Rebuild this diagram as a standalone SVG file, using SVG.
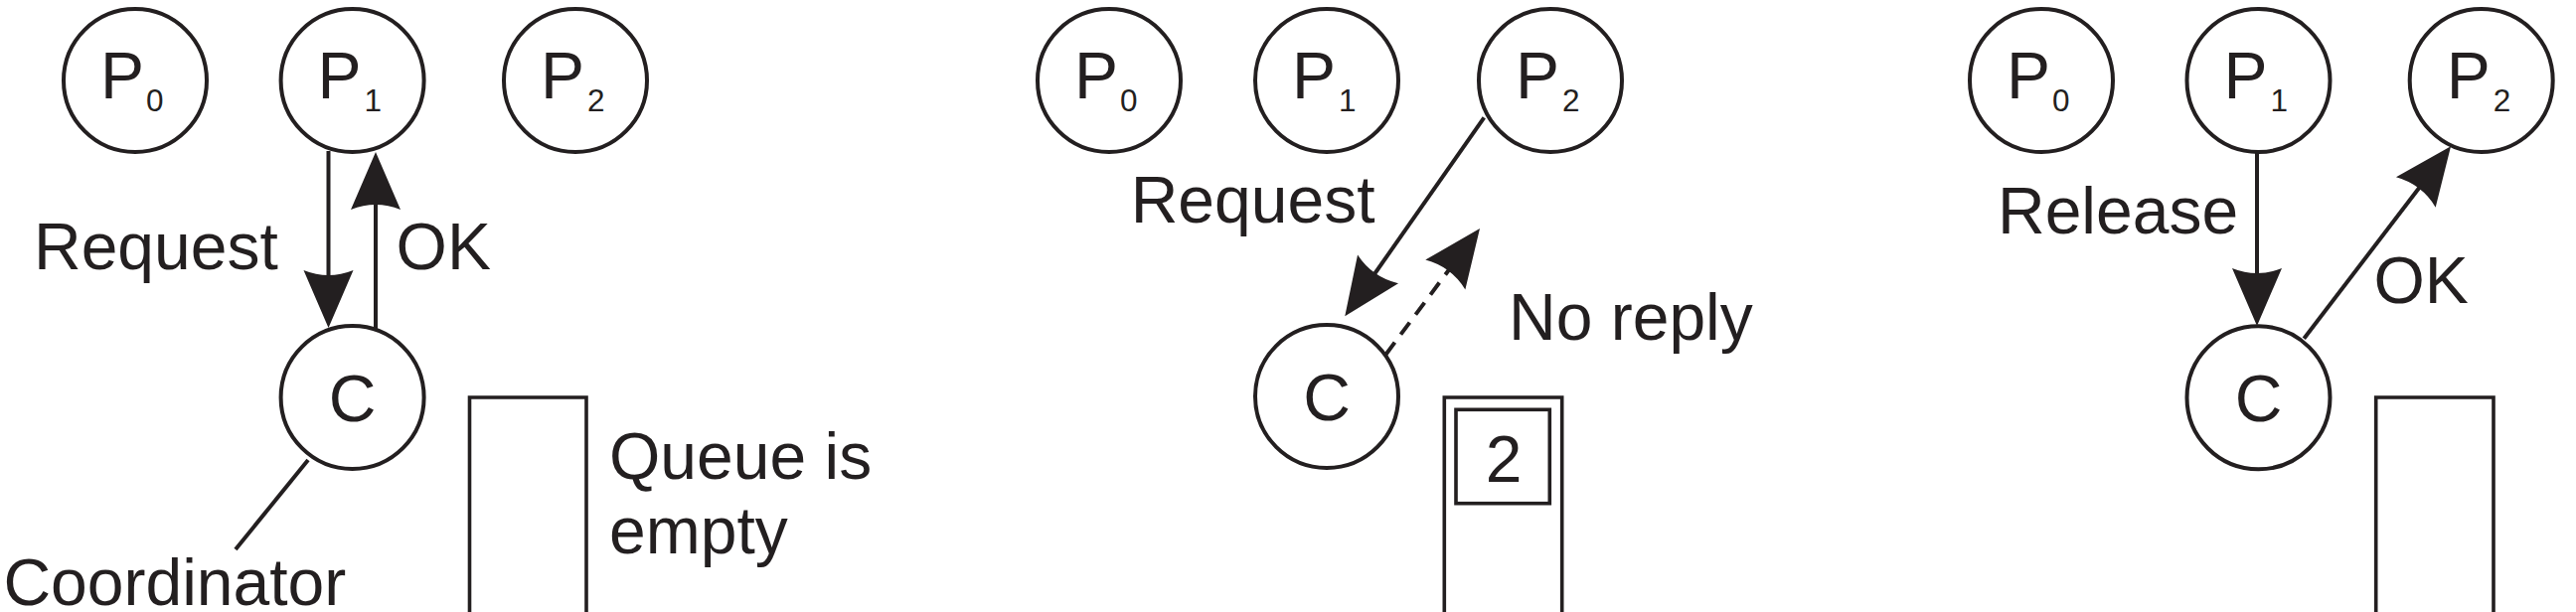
<svg xmlns="http://www.w3.org/2000/svg" width="2592" height="616" viewBox="0 0 2592 616">
<style>
.n{fill:#fff;stroke:#231f20;stroke-width:4}
.t{font-family:"Liberation Sans",Arial,sans-serif;font-size:66px;fill:#231f20}
.s{font-family:"Liberation Sans",Arial,sans-serif;font-size:31.5px;fill:#231f20}
.e{fill:none;stroke:#231f20;stroke-width:4}
.d{stroke-dasharray:15 10}
.q{fill:none;stroke:#231f20;stroke-width:3.6}
</style>
<defs>
<marker id="ah" markerUnits="userSpaceOnUse" markerWidth="60" markerHeight="52" viewBox="0 -26 60 52" refX="10" refY="0" orient="auto" overflow="visible">
<path d="M0,-25 L58,0 L0,25 Q10,0 0,-25 Z" fill="#231f20"/>
</marker>
</defs>
<rect width="2592" height="616" fill="#fff"/>
<g id="connectors">
<line class="e" x1="330.5" y1="152" x2="330.5" y2="282" marker-end="url(#ah)"/>
<line class="e" x1="378" y1="331" x2="378" y2="201" marker-end="url(#ah)"/>
<line class="e" x1="310" y1="463" x2="237" y2="553"/>
<line class="e" x1="1493.3" y1="118.3" x2="1380.8" y2="279" marker-end="url(#ah)"/>
<line class="e d" x1="1394.5" y1="356.7" x2="1460.3" y2="268.5" marker-end="url(#ah)"/>
<line class="e" x1="2271" y1="153" x2="2271" y2="280" marker-end="url(#ah)"/>
<line class="e" x1="2318.3" y1="340.7" x2="2436.9" y2="185.5" marker-end="url(#ah)"/>
</g>
<g id="panel1-P0"><circle class="n" cx="136" cy="81" r="72"/><text class="t" x="101" y="99">P</text><text class="s" x="147" y="111.5">0</text></g>
<g id="panel1-P1"><circle class="n" cx="354.6" cy="81" r="72"/><text class="t" x="319.6" y="99">P</text><text class="s" x="366.6" y="111.5">1</text></g>
<g id="panel1-P2"><circle class="n" cx="579" cy="81" r="72"/><text class="t" x="544" y="99">P</text><text class="s" x="591" y="111.5">2</text></g>
<g id="panel1-C"><circle class="n" cx="354.6" cy="400" r="72"/><text class="t" x="354.6" y="424" text-anchor="middle">C</text></g>
<g id="panel1-queue"><path class="q" d="M472.5,616 V400 H590 V616"/></g>
<g id="panel1-labels">
<text class="t" x="3.4" y="271" dx="30.6">Request</text>
<text class="t" x="398.6" y="271">OK</text>
<text class="t" x="3.4" y="609">Coordinator</text>
<text class="t" x="613" y="481.7">Queue is</text>
<text class="t" x="613" y="556.7">empty</text>
</g>
<g id="panel2-P0"><circle class="n" cx="1116" cy="81" r="72"/><text class="t" x="1081" y="99">P</text><text class="s" x="1127" y="111.5">0</text></g>
<g id="panel2-P1"><circle class="n" cx="1335" cy="81" r="72"/><text class="t" x="1300" y="99">P</text><text class="s" x="1347" y="111.5">1</text></g>
<g id="panel2-P2"><circle class="n" cx="1560" cy="81" r="72"/><text class="t" x="1525" y="99">P</text><text class="s" x="1572" y="111.5">2</text></g>
<g id="panel2-C"><circle class="n" cx="1335" cy="399" r="72"/><text class="t" x="1335" y="423" text-anchor="middle">C</text></g>
<g id="panel2-queue"><path class="q" d="M1453.3,616 V400 H1571.7 V616"/><rect class="q" x="1465" y="412.3" width="94.3" height="94.4"/><text class="t" x="1513" y="485" text-anchor="middle">2</text></g>
<g id="panel2-labels">
<text class="t" x="1137.7" y="224">Request</text>
<text class="t" x="1518" y="341.8">No reply</text>
</g>
<g id="panel3-P0"><circle class="n" cx="2054" cy="81" r="72"/><text class="t" x="2019" y="99">P</text><text class="s" x="2065" y="111.5">0</text></g>
<g id="panel3-P1"><circle class="n" cx="2272.5" cy="81" r="72"/><text class="t" x="2237.5" y="99">P</text><text class="s" x="2284.5" y="111.5">1</text></g>
<g id="panel3-P2"><circle class="n" cx="2496.7" cy="81" r="72"/><text class="t" x="2461.7" y="99">P</text><text class="s" x="2508.7" y="111.5">2</text></g>
<g id="panel3-C"><circle class="n" cx="2272.5" cy="400.3" r="72"/><text class="t" x="2272.5" y="424" text-anchor="middle">C</text></g>
<g id="panel3-queue"><path class="q" d="M2390.7,616 V400 H2509 V616"/></g>
<g id="panel3-labels">
<text class="t" x="2010" y="235">Release</text>
<text class="t" x="2388.5" y="304.5">OK</text>
</g>
</svg>
